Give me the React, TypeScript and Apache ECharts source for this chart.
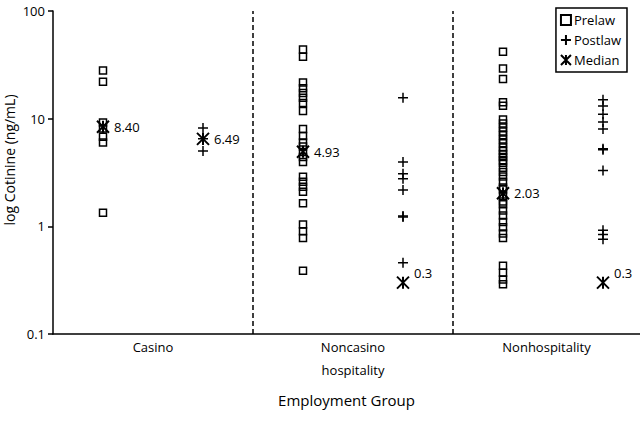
import React, { useEffect, useRef } from "react";
import * as echarts from "echarts";

const categories = ["Casino", "Noncasino\nhospitality", "Nonhospitality"];
const seriesNames = ["Prelaw", "Postlaw", "Median"];

const casinoPrelaw = [28, 22, 9.2, 8.1, 6.8, 6.0, 1.34];
const casinoPostlaw = [8.2, 6.5, 5.0];
const noncasinoPrelaw = [
  44, 37.6, 21.7, 19.2, 17.3, 15.6, 14.0, 11.8, 8.0, 6.9, 6.0, 5.5, 4.9, 4.4,
  3.95, 2.88, 2.59, 2.33, 2.09, 1.64, 1.04, 0.9, 0.78, 0.386,
];
const noncasinoPostlaw = [15.6, 3.95, 3.08, 2.77, 2.17, 1.25, 1.22, 0.46];
const nonhospPrelaw = [
  41.8, 29.3, 23.3, 14.2, 13.2, 9.8, 9.0, 8.3, 7.6, 7.0, 6.4, 5.9, 5.4, 5.0,
  4.7, 4.4, 4.1, 3.9, 3.5, 3.2, 2.9, 2.6, 2.3, 2.2, 1.9, 1.7, 1.6, 1.4, 1.26,
  1.1, 0.98, 0.86, 0.78, 0.43, 0.37, 0.32, 0.29,
];
const nonhospPostlaw = [15.0, 13.1, 11.0, 9.3, 8.0, 5.25, 5.15, 3.3, 0.92, 0.84, 0.76];

const prelawGroups = [casinoPrelaw, noncasinoPrelaw, nonhospPrelaw];
const postlawGroups = [casinoPostlaw, noncasinoPostlaw, nonhospPostlaw];
const prelawMedians = [8.4, 4.93, 2.03];
const postlawMedians = [6.49, 0.3, 0.3];
const prelawMedianLabels = ["8.40", "4.93", "2.03"];
const postlawMedianLabels = ["6.49", "0.3", "0.3"];

const FONT = "Open Sans";
const PLUS = "path://M0,5L10,5M5,0L5,10";
const STAR = "path://M0,0L10,10M10,0L0,10M5,0L5,10";

export default function App() {
  const ref = useRef<HTMLDivElement>(null);
  useEffect(() => {
    if (!ref.current) return;
    const chart = echarts.init(ref.current, null, { renderer: "svg" });
    const xMax = 2.935;
    const prelawData: number[][] = [];
    prelawGroups.forEach((g, i) => g.forEach((v) => prelawData.push([i + 0.25, v])));
    const postlawData: number[][] = [];
    postlawGroups.forEach((g, i) => g.forEach((v) => postlawData.push([i + 0.75, v])));
    const medianData: any[] = [];
    prelawMedians.forEach((v, i) =>
      medianData.push({ value: [i + 0.25, v], name: prelawMedianLabels[i] })
    );
    postlawMedians.forEach((v, i) =>
      medianData.push({
        value: [i + 0.75, v],
        name: postlawMedianLabels[i],
        label: v < 1 ? { offset: [0, -10] } : undefined,
      })
    );
    const labelPos = categories.map((_, i) =>
      i === categories.length - 1 ? (i + xMax) / 2 : i + 0.5
    );

    chart.setOption({
      animation: false,
      textStyle: { fontFamily: FONT },
      grid: {
        left: 53,
        right: 0,
        top: 11,
        bottom: 98,
        containLabel: false,
        outerBoundsMode: "none",
      },
      legend: {
        data: seriesNames,
        orient: "vertical",
        right: 13,
        top: 8,
        padding: [5, 6, 5, 4],
        itemGap: 6,
        itemWidth: 10,
        itemHeight: 10,
        borderColor: "#000",
        borderWidth: 1.5,
        borderRadius: 0,
        textStyle: { fontFamily: FONT, fontSize: 13, color: "#000", lineHeight: 14, padding: [0, 0, 0, -2] },
      },
      xAxis: {
        type: "value",
        min: 0,
        max: xMax,
        axisLine: { show: true, lineStyle: { color: "#000", width: 1.5 } },
        axisTick: { show: false },
        splitLine: { show: false },
        axisLabel: {
          customValues: labelPos,
          formatter: (v: number) => categories[Math.floor(v)] || "",
          fontFamily: FONT,
          fontSize: 13,
          color: "#000",
          lineHeight: 23,
          margin: 1,
        },
        name: "Employment Group",
        nameLocation: "middle",
        nameGap: 58,
        nameTextStyle: { fontFamily: FONT, fontSize: 15, color: "#000" },
      },
      yAxis: {
        type: "log",
        logBase: 10,
        min: 0.1,
        max: 100,
        axisLine: { show: true, lineStyle: { color: "#000", width: 1.5 } },
        axisTick: { show: true, inside: false, length: 5, lineStyle: { color: "#000", width: 1.5 } },
        splitLine: { show: false },
        axisLabel: {
          fontFamily: FONT,
          fontSize: 13,
          color: "#000",
          margin: 8,
          formatter: (v: number) => String(v),
        },
      },
      graphic: [
        {
          type: "text",
          x: 9,
          y: 160,
          rotation: Math.PI / 2,
          style: {
            text: "log Cotinine (ng/mL)",
            fontFamily: FONT,
            fontSize: 14,
            fill: "#000",
            textAlign: "center",
            textVerticalAlign: "middle",
          },
        },
      ],
      series: [
        {
          name: "Prelaw",
          type: "scatter",
          data: prelawData,
          symbol: "rect",
          symbolSize: 7,
          itemStyle: { color: "transparent", borderColor: "#000", borderWidth: 1.5, opacity: 1 },
          markLine: {
            silent: true,
            symbol: "none",
            label: { show: false },
            lineStyle: { color: "#000", width: 1.5, type: [5, 3] },
            data: [{ xAxis: 1 }, { xAxis: 2 }],
          },
        },
        {
          name: "Postlaw",
          type: "scatter",
          data: postlawData,
          symbol: PLUS,
          symbolSize: 10,
          itemStyle: { color: "transparent", borderColor: "#000", borderWidth: 1.5, opacity: 1 },
        },
        {
          name: "Median",
          type: "scatter",
          data: medianData,
          symbol: STAR,
          symbolSize: 12,
          itemStyle: { color: "transparent", borderColor: "#000", borderWidth: 2, opacity: 1 },
          label: {
            show: true,
            position: "right",
            distance: 4,
            formatter: (p: any) => p.name,
            fontFamily: FONT,
            fontSize: 13,
            color: "#000",
          },
          z: 5,
        },
      ],
    });
    return () => chart.dispose();
  }, []);
  return (
    <div
      ref={ref}
      style={{ position: "fixed", left: 0, top: 0, width: 640, height: 432, background: "#fff" }}
    />
  );
}
